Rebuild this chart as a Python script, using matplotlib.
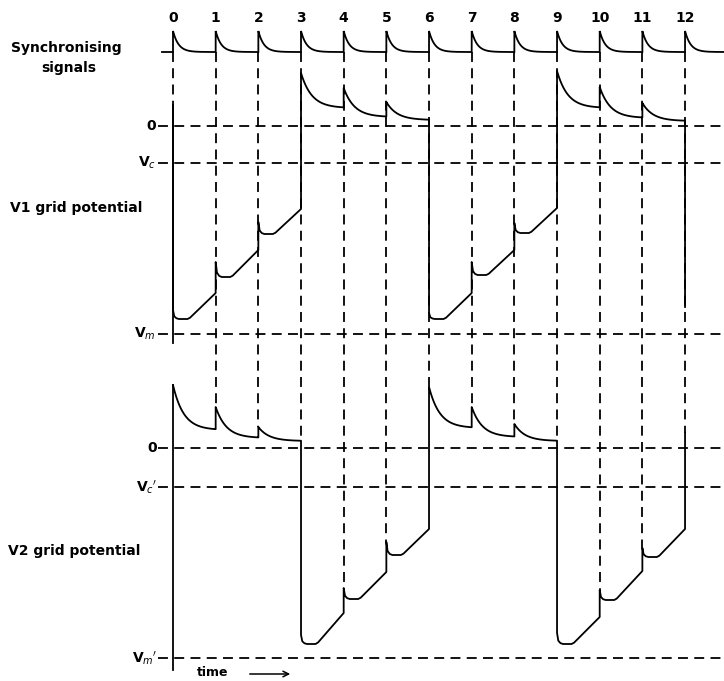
import numpy as np
import matplotlib
matplotlib.use("Agg")
import matplotlib.pyplot as plt

# ---------------- data ----------------
sync_labels = ["0", "1", "2", "3", "4", "5", "6", "7", "8", "9", "10", "11", "12"]
sync_peaks = [2.1, 2.1, 2.1, 2.1, 2.1, 2.1, 2.1, 2.1, 2.1, 2.1, 2.1, 2.1, 2.1]

# segment k lies between sync k and sync k+1
# 'H' = exponential decay from peak (a) to floor (b)
# 'L' = jump to (a), dip to (b), linear run-up to (c)
v1_state = ["L", "L", "L", "H", "H", "H", "L", "L", "L", "H", "H", "H"]
v1_a = [-18.4, -13.6, -9.6, 5.3, 3.8, 2.4, -18.7, -13.6, -9.7, 5.5, 3.9, 2.3]
v1_b = [-19.3, -15.1, -10.8, 1.8, 0.9, 0.6, -19.3, -14.9, -10.7, 1.8, 0.8, 0.5]
v1_c = [-16.7, -12.4, -8.3, None, None, None, -16.7, -12.4, -8.2, None, None, None]
v1_first = 2.1
v1_last = -18.1

v2_state = ["H", "H", "H", "L", "L", "L", "H", "H", "H", "L", "L", "L"]
v2_a = [6.3, 4.1, 2.1, -18.7, -14.0, -9.4, 6.1, 4.1, 2.4, -18.5, -14.2, -10.0]
v2_b = [1.8, 1.0, 0.7, -19.6, -15.1, -10.7, 2.0, 1.1, 0.7, -19.6, -15.2, -10.9]
v2_c = [None, None, None, -16.5, -12.4, -8.1, None, None, None, -16.9, -12.3, -8.1]
v2_first = None
v2_last = 1.5

v1_level_names = ["0", "V$_c$", "V$_m$"]
v1_levels = [0.0, -3.7, -20.8]
v2_level_names = ["0", "V$_c$$'$", "V$_m$$'$"]
v2_levels = [0.0, -3.9, -21.0]

# ---------------- layout ----------------
W, H = 724, 681
X0, DX = 173.0, 42.67          # pixel x of sync 0 and sync spacing
SYNC_ROW, V1_ROW, V2_ROW = 52.0, 126.0, 448.0
SCALE = 10.0
TAU, TAU_S = 0.25, 0.13

def tx(px):
    return (px - X0) / DX

def row(off, v):
    return off - SCALE * np.asarray(v, dtype=float)

def build(state, a, b, c, first, last):
    ts, vs = [], []
    if first is not None:
        ts.append(0.0); vs.append(first)
    for k, st in enumerate(state):
        if st == "H":
            tt = np.linspace(k, k + 1, 80)
            vv = b[k] + (a[k] - b[k]) * np.exp(-(tt - k) / TAU)
            ts.extend(tt); vs.extend(vv)
        else:
            A, B, C = a[k], b[k], c[k]
            tt = [k, k + 0.03, k + 0.08, k + 0.14, k + 0.34, k + 0.40, k + 1]
            vv = [A, A + (B - A) * 0.7, B + (A - B) * 0.08, B, B,
                  B + (C - B) * 0.05, C]
            ts.extend(tt); vs.extend(vv)
    ts.append(12.0); vs.append(last)
    return np.array(ts), np.array(vs)

fig = plt.figure(figsize=(W / 100, H / 100), dpi=100)
ax = fig.add_axes([0, 0, 1, 1])
ax.set_xlim(tx(0), tx(W))
ax.set_ylim(H, 0)
ax.axis("off")

LW = 1.3
DASH = (0, (5.5, 3.5))
col = "black"

# sync signal trace
st_t = [tx(162)]
st_v = [0.0]
for k, p in enumerate(sync_peaks):
    end = k + 1 if k < len(sync_peaks) - 1 else tx(W)
    tt = np.linspace(k, end, 60)
    st_t.extend([k]); st_v.extend([0.0])
    st_t.extend(tt); st_v.extend(p * np.exp(-(tt - k) / TAU_S))
ax.plot(st_t, row(SYNC_ROW, st_v), color=col, lw=LW, solid_joinstyle="miter")

# waveforms
t1, v1 = build(v1_state, v1_a, v1_b, v1_c, v1_first, v1_last)
t2, v2 = build(v2_state, v2_a, v2_b, v2_c, v2_first, v2_last)
ax.plot(t1, row(V1_ROW, v1), color=col, lw=LW)
ax.plot(t2, row(V2_ROW, v2), color=col, lw=LW)

# axes (solid verticals at t=0)
ax.plot([0, 0], [row(V1_ROW, v1_first), 343], color=col, lw=LW)
ax.plot([0, 0], [row(V2_ROW, v2_a[0]), 670], color=col, lw=LW)

# horizontal dashed reference levels
for lv in v1_levels:
    ax.plot([tx(158), tx(W)], [row(V1_ROW, lv)] * 2, color=col, lw=LW, linestyle=DASH)
for lv in v2_levels:
    ax.plot([tx(158), tx(W)], [row(V2_ROW, lv)] * 2, color=col, lw=LW, linestyle=DASH)

# vertical dashed sync lines, down to the top of the V2 trace at that instant
for k in range(len(sync_labels)):
    if k == 0:
        bottom = row(V1_ROW, v1_first)
    else:
        vals = v2[np.isclose(t2, k)]
        bottom = row(V2_ROW, vals.max())
    ax.plot([k, k], [SYNC_ROW, bottom], color=col, lw=LW, linestyle=DASH)

# texts
fs = 10
fw = "bold"
for k, lab in enumerate(sync_labels):
    ax.text(k, 18, lab, ha="center", va="center", fontsize=fs, fontweight=fw)

ax.text(tx(66), 48, "Synchronising", ha="center", va="center", fontsize=fs, fontweight=fw)
ax.text(tx(69), 68, "signals", ha="center", va="center", fontsize=fs, fontweight=fw)
ax.text(tx(10), 208, "V1 grid potential", ha="left", va="center", fontsize=fs, fontweight=fw)
ax.text(tx(8), 551, "V2 grid potential", ha="left", va="center", fontsize=fs, fontweight=fw)

for name, lv in zip(v1_level_names, v1_levels):
    ax.text(tx(156), row(V1_ROW, lv), name, ha="right", va="center", fontsize=fs, fontweight=fw)
for name, lv in zip(v2_level_names, v2_levels):
    ax.text(tx(157), row(V2_ROW, lv), name, ha="right", va="center", fontsize=fs, fontweight=fw)

ax.text(tx(197), 672, "time", ha="left", va="center", fontsize=fs - 1, fontweight=fw)
ax.annotate("", xy=(tx(293), 674), xytext=(tx(247), 674),
            arrowprops=dict(arrowstyle="->", color=col, lw=1.1))

fig.savefig("out.png", dpi=100)
